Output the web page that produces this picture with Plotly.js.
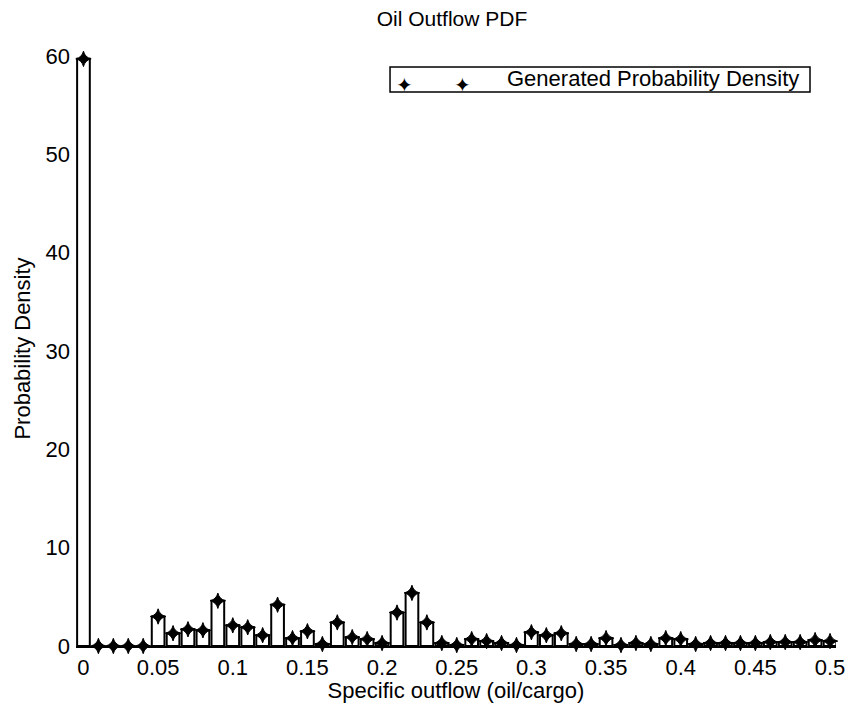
<!DOCTYPE html>
<html>
<head>
<meta charset="utf-8">
<script src="https://cdn.plot.ly/plotly-3.0.1.min.js"></script>
<style>html,body{margin:0;padding:0;background:#fff;}#chart{width:848px;height:703px;}</style>
</head>
<body>
<div id="chart"></div>
<script>
// Data
var outflow = [0, 0.01, 0.02, 0.03, 0.04, 0.05, 0.06, 0.07, 0.08, 0.09,
               0.10, 0.11, 0.12, 0.13, 0.14, 0.15, 0.16, 0.17, 0.18, 0.19,
               0.20, 0.21, 0.22, 0.23, 0.24, 0.25, 0.26, 0.27, 0.28, 0.29,
               0.30, 0.31, 0.32, 0.33, 0.34, 0.35, 0.36, 0.37, 0.38, 0.39,
               0.40, 0.41, 0.42, 0.43, 0.44, 0.45, 0.46, 0.47, 0.48, 0.49, 0.50];
var density = [59.7, 0, 0, 0, 0, 3.0, 1.3, 1.7, 1.6, 4.6,
               2.1, 1.9, 1.1, 4.2, 0.8, 1.5, 0.2, 2.4, 0.9, 0.7,
               0.3, 3.4, 5.4, 2.4, 0.3, 0.1, 0.7, 0.5, 0.3, 0.1,
               1.4, 1.1, 1.3, 0.2, 0.2, 0.8, 0.1, 0.3, 0.2, 0.8,
               0.7, 0.2, 0.3, 0.3, 0.3, 0.3, 0.4, 0.4, 0.4, 0.6, 0.5];
var seriesName = "Generated Probability Density";
var chartTitle = "Oil Outflow PDF";
var xTitle = "Specific outflow (oil/cargo)";
var yTitle = "Probability Density";

var FONT = "Liberation Sans, Arial, sans-serif";

var bars = {
  type: "bar",
  x: outflow,
  y: density,
  width: 0.0085,
  marker: {color: "#ffffff", line: {color: "#000000", width: 2}},
  showlegend: false,
  hoverinfo: "skip"
};
var points = {
  type: "scatter",
  mode: "markers",
  x: outflow,
  y: density,
  name: seriesName,
  showlegend: false,
  cliponaxis: false,
  marker: {symbol: "star-diamond", size: 11, color: "#000000", line: {color: "#000000", width: 1}}
};

// Legend drawn as a framed box (MATLAB style: two markers then the label)
var legendShapes = [{
  type: "rect", xref: "paper", yref: "paper",
  x0: 0.4132, x1: 0.9658, y0: 0.9311, y1: 0.9731,
  line: {color: "#000", width: 1.5}, fillcolor: "#ffffff", layer: "above"
}];
var legendAnnotations = [
  {xref: "paper", yref: "paper", x: 0.5645, y: 0.9546, xanchor: "left", yanchor: "middle",
   text: seriesName, showarrow: false, font: {family: FONT, size: 22, color: "#000"}},
  {xref: "paper", yref: "paper", x: 0.4316, y: 0.943, xanchor: "center", yanchor: "middle",
   text: "\u2726", showarrow: false, font: {family: "DejaVu Sans", size: 20, color: "#000"}},
  {xref: "paper", yref: "paper", x: 0.5092, y: 0.943, xanchor: "center", yanchor: "middle",
   text: "\u2726", showarrow: false, font: {family: "DejaVu Sans", size: 20, color: "#000"}}
];

var layout = {
  width: 848,
  height: 703,
  paper_bgcolor: "#ffffff",
  plot_bgcolor: "#ffffff",
  margin: {l: 76, r: 12, t: 51, b: 57},
  font: {family: FONT, size: 22, color: "#000000"},
  title: {text: chartTitle, font: {family: FONT, size: 21, color: "#000"}, x: 0.533, xanchor: "center", y: 0.973, yanchor: "middle"},
  bargap: 0,
  xaxis: {
    range: [-0.005, 0.504],
    tickmode: "linear", tick0: 0, dtick: 0.05,
    showgrid: false, zeroline: false,
    showline: true, linecolor: "#000", linewidth: 2,
    ticks: "", ticklabelstandoff: 1,
    tickfont: {family: FONT, size: 22},
    title: {text: xTitle, font: {family: FONT, size: 22}, standoff: 4}
  },
  yaxis: {
    range: [0, 60.5],
    tickmode: "linear", tick0: 0, dtick: 10,
    showgrid: false, zeroline: false, showline: false,
    ticks: "", ticklabelstandoff: 5,
    tickfont: {family: FONT, size: 22},
    title: {text: yTitle, font: {family: FONT, size: 22}, standoff: 8}
  },
  showlegend: false,
  shapes: legendShapes,
  annotations: legendAnnotations
};

Plotly.newPlot("chart", [bars, points], layout, {staticPlot: true, displayModeBar: false});
</script>
</body>
</html>
